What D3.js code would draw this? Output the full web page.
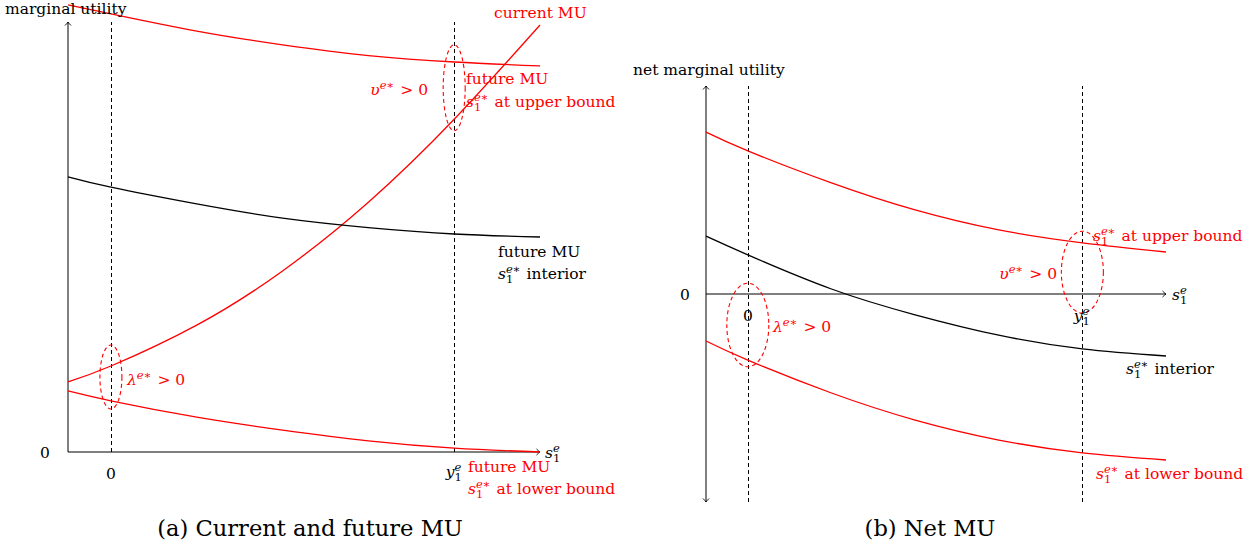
<!DOCTYPE html>
<html>
<head>
<meta charset="utf-8">
<script src="https://cdn.jsdelivr.net/npm/d3@7"></script>
<style>
  body { margin: 0; background: #fff; }
  text { font-family: "DejaVu Serif", serif; font-size: 15.5px; white-space: pre; }
</style>
</head>
<body>
<div id="container"></div>
<script>
//Width and height
var w = 1251;
var h = 550;

// savings grid (0 = lower bound, 1 = y1^e upper bound)
var sGrid = [-0.125, 0, 0.25, 0.5, 0.75, 1, 1.25];

// panel (a): current and future MU
var currentMU      = [1.63, 2.00, 2.95, 4.21, 5.81, 7.74, 9.93];
var futureUpper    = [10.40, 10.19, 9.79, 9.47, 9.22, 9.07, 8.98];
var futureInterior = [6.40, 6.16, 5.77, 5.44, 5.22, 5.07, 5.00];
var futureLower    = [1.42, 1.19, 0.81, 0.51, 0.26, 0.09, 0.00];

// panel (b): net MU
var netUpper    = [3.89, 3.44, 2.67, 2.02, 1.54, 1.23, 1.01];
var netInterior = [1.39, 0.94, 0.12, -0.50, -0.99, -1.32, -1.49];
var netLower    = [-1.13, -1.59, -2.38, -3.03, -3.51, -3.82, -3.99];

// bounds (dashed lines) and multiplier ellipses [s, low, high]
var boundS = [0, 1];
var ellipsesA = [[0, 1.00, 2.49], [1, 7.47, 9.47]];
var ellipsesB = [[0, -1.75, 0.26], [1, -0.46, 1.51]];

var red = '#ff0000';

//create SVG
var svg = d3.select('#container')
    .append('svg')
    .attr('width', w)
    .attr('height', h)
    .style('background', '#fff');

// arrow head
var defs = svg.append('defs');
defs.append('marker')
    .attr('id', 'arr')
    .attr('viewBox', '-5 -5 10 10')
    .attr('markerWidth', 10)
    .attr('markerHeight', 10)
    .attr('markerUnits', 'userSpaceOnUse')
    .attr('orient', 'auto-start-reverse')
    .append('path')
    .attr('d', 'M-3.5,-3 Q-1.2,-0.8 0,0 Q-1.2,0.8 -3.5,3')
    .attr('fill', 'none')
    .attr('stroke', '#000')
    .attr('stroke-width', 0.9);

// math label: segments are {t, it} or {sup, sub}
function mathLabel(g, x, y, segs, color, anchor) {
    var grp = g.append('g').attr('fill', color);
    var cx = 0;
    segs.forEach(function(s) {
        if (s.sup !== undefined || s.sub !== undefined) {
            var wd = 0;
            if (s.sup) {
                var t = grp.append('text').attr('x', cx).attr('y', -6.5).style('font-size', '11.5px');
                s.sup.split('').forEach(function(c) {
                    t.append('tspan').style('font-style', /[a-z]/.test(c) ? 'italic' : 'normal').text(c);
                });
                wd = Math.max(wd, t.node().getComputedTextLength());
            }
            if (s.sub) {
                var t2 = grp.append('text').attr('x', cx).attr('y', 4).style('font-size', '11.5px').text(s.sub);
                wd = Math.max(wd, t2.node().getComputedTextLength());
            }
            cx += wd + 1;
        } else {
            var tt = grp.append('text').attr('x', cx).attr('y', 0)
                .style('font-style', s.it ? 'italic' : 'normal')
                .text(s.t);
            cx += tt.node().getComputedTextLength();
        }
    });
    var dx = anchor === 'middle' ? -cx / 2 : (anchor === 'end' ? -cx : 0);
    grp.attr('transform', 'translate(' + (x + dx) + ',' + y + ')');
}

var s1star = [{t: 's', it: true}, {sup: 'e\u2217', sub: '1'}];
var s1e = [{t: 's', it: true}, {sup: 'e', sub: '1'}];
var y1e = [{t: 'y', it: true}, {sup: 'e', sub: '1'}];
var lam = [{t: '\u03bb', it: true}, {sup: 'e\u2217'}, {t: ' > 0'}];
var ups = [{t: '\u03c5', it: true}, {sup: 'e\u2217'}, {t: ' > 0'}];

function drawCurve(g, line, vals, color) {
    g.append('path')
        .datum(sGrid.map(function(s, i) { return [s, vals[i]]; }))
        .attr('fill', 'none')
        .attr('stroke', color)
        .attr('stroke-width', 1.3)
        .attr('d', line);
}

// ---------- panel (a) ----------
var xA = d3.scaleLinear().domain([-0.125, 1.25]).range([68, 540]);
var yA = d3.scaleLinear().domain([0, 10]).range([452, 22]);
var gA = svg.append('g');
var lineA = d3.line()
    .x(function(d) { return xA(d[0]); })
    .y(function(d) { return yA(d[1]); })
    .curve(d3.curveNatural);

gA.selectAll('.bound')
    .data(boundS)
    .enter()
    .append('line')
    .attr('x1', function(d) { return Math.round(xA(d)) + 0.5; })
    .attr('x2', function(d) { return Math.round(xA(d)) + 0.5; })
    .attr('y1', yA(0))
    .attr('y2', yA(10))
    .attr('stroke', '#000')
    .attr('stroke-width', 1)
    .attr('stroke-dasharray', '4,3');

// axes
gA.append('line')
    .attr('x1', xA(-0.125)).attr('x2', xA(1.25))
    .attr('y1', yA(0)).attr('y2', yA(0))
    .attr('stroke', '#000').attr('stroke-width', 1)
    .attr('marker-end', 'url(#arr)');
gA.append('line')
    .attr('x1', xA(-0.125)).attr('x2', xA(-0.125))
    .attr('y1', yA(0)).attr('y2', yA(10))
    .attr('stroke', '#000').attr('stroke-width', 1)
    .attr('marker-end', 'url(#arr)');

drawCurve(gA, lineA, futureUpper, red);
drawCurve(gA, lineA, currentMU, red);
drawCurve(gA, lineA, futureInterior, '#000');
drawCurve(gA, lineA, futureLower, red);

gA.selectAll('.ell')
    .data(ellipsesA)
    .enter()
    .append('ellipse')
    .attr('cx', function(d) { return xA(d[0]); })
    .attr('cy', function(d) { return (yA(d[1]) + yA(d[2])) / 2; })
    .attr('rx', 11)
    .attr('ry', function(d) { return (yA(d[1]) - yA(d[2])) / 2; })
    .attr('fill', 'none')
    .attr('stroke', red)
    .attr('stroke-width', 1.1)
    .attr('stroke-dasharray', '4,3');

gA.append('text').attr('x', 5).attr('y', 14).text('marginal utility');
gA.append('text').attr('x', 45).attr('y', 458).attr('text-anchor', 'middle').text('0');
gA.append('text').attr('x', xA(0)).attr('y', 479).attr('text-anchor', 'middle').text('0');
mathLabel(gA, xA(1), 477, y1e, '#000', 'middle');
mathLabel(gA, 545, 458, s1e, '#000', 'start');
gA.append('text').attr('x', 494).attr('y', 18).attr('fill', red).text('current MU');
gA.append('text').attr('x', 466).attr('y', 84).attr('fill', red).text('future MU');
mathLabel(gA, 466, 107, s1star.concat([{t: ' at upper bound'}]), red, 'start');
mathLabel(gA, 428, 95, ups, red, 'end');
gA.append('text').attr('x', 498).attr('y', 257).text('future MU');
mathLabel(gA, 498, 279, s1star.concat([{t: ' interior'}]), '#000', 'start');
mathLabel(gA, 127, 385, lam, red, 'start');
gA.append('text').attr('x', 468).attr('y', 472).attr('fill', red).text('future MU');
mathLabel(gA, 468, 494, s1star.concat([{t: ' at lower bound'}]), red, 'start');
gA.append('text').attr('x', 310).attr('y', 536).attr('text-anchor', 'middle')
    .style('font-size', '22.6px').text('(a) Current and future MU');

// ---------- panel (b) ----------
var xB = d3.scaleLinear().domain([-0.125, 1.25]).range([706, 1166]);
var yB = d3.scaleLinear().domain([-5, 5]).range([502, 86]);
var gB = svg.append('g');
var lineB = d3.line()
    .x(function(d) { return xB(d[0]); })
    .y(function(d) { return yB(d[1]); })
    .curve(d3.curveNatural);

gB.selectAll('.bound')
    .data(boundS)
    .enter()
    .append('line')
    .attr('x1', function(d) { return Math.round(xB(d)) + 0.5; })
    .attr('x2', function(d) { return Math.round(xB(d)) + 0.5; })
    .attr('y1', yB(-5))
    .attr('y2', yB(5))
    .attr('stroke', '#000')
    .attr('stroke-width', 1)
    .attr('stroke-dasharray', '4,3');

gB.append('line')
    .attr('x1', xB(-0.125)).attr('x2', xB(1.25))
    .attr('y1', yB(0)).attr('y2', yB(0))
    .attr('stroke', '#000').attr('stroke-width', 1)
    .attr('marker-end', 'url(#arr)');
gB.append('line')
    .attr('x1', xB(-0.125)).attr('x2', xB(-0.125))
    .attr('y1', yB(-5)).attr('y2', yB(5))
    .attr('stroke', '#000').attr('stroke-width', 1)
    .attr('marker-start', 'url(#arr)')
    .attr('marker-end', 'url(#arr)');

drawCurve(gB, lineB, netUpper, red);
drawCurve(gB, lineB, netInterior, '#000');
drawCurve(gB, lineB, netLower, red);

gB.selectAll('.ell')
    .data(ellipsesB)
    .enter()
    .append('ellipse')
    .attr('cx', function(d) { return xB(d[0]); })
    .attr('cy', function(d) { return (yB(d[1]) + yB(d[2])) / 2; })
    .attr('rx', 21)
    .attr('ry', function(d) { return (yB(d[1]) - yB(d[2])) / 2; })
    .attr('fill', 'none')
    .attr('stroke', red)
    .attr('stroke-width', 1.1)
    .attr('stroke-dasharray', '4,3');

gB.append('text').attr('x', 633).attr('y', 75).text('net marginal utility');
gB.append('text').attr('x', 685).attr('y', 300).attr('text-anchor', 'middle').text('0');
gB.append('text').attr('x', xB(0)).attr('y', 321).attr('text-anchor', 'middle').text('0');
mathLabel(gB, xB(1), 321, y1e, '#000', 'middle');
mathLabel(gB, 1172, 300, s1e, '#000', 'start');
mathLabel(gB, 1093, 241, s1star.concat([{t: ' at upper bound'}]), red, 'start');
mathLabel(gB, 1057, 279, ups, red, 'end');
mathLabel(gB, 773, 332, lam, red, 'start');
mathLabel(gB, 1126, 374, s1star.concat([{t: ' interior'}]), '#000', 'start');
mathLabel(gB, 1096, 479, s1star.concat([{t: ' at lower bound'}]), red, 'start');
gB.append('text').attr('x', 930).attr('y', 536).attr('text-anchor', 'middle')
    .style('font-size', '22.6px').text('(b) Net MU');
</script>
</body>
</html>
